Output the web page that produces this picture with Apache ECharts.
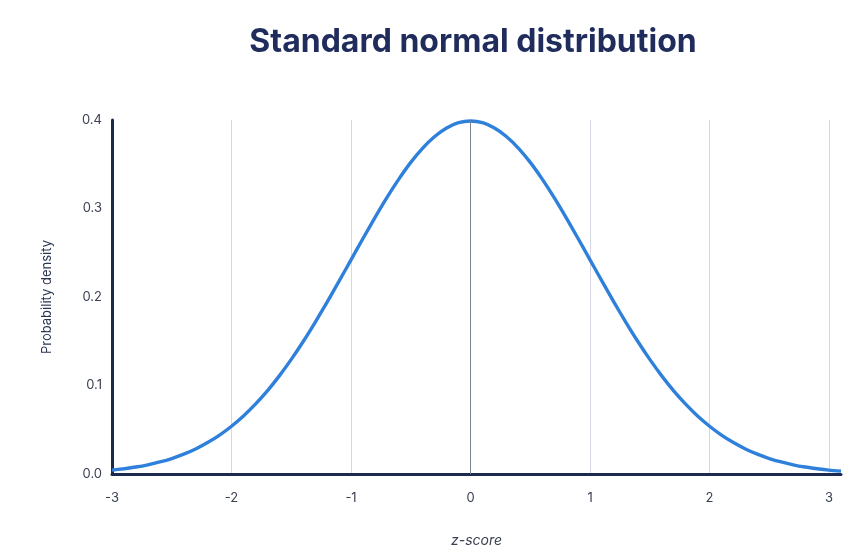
<!DOCTYPE html>
<html>
<head>
<meta charset="utf-8">
<script src="https://cdn.jsdelivr.net/npm/echarts@6/dist/echarts.min.js"></script>
<style>
html,body{margin:0;padding:0;background:#fff;}
#chart{width:859px;height:558px;}
</style>
</head>
<body>
<div id="chart"></div>
<script>
const titleText = 'Standard normal distribution';
const xAxisName = 'z-score';
const yAxisName = 'Probability density';
const xTicks = [-3, -2, -1, 0, 1, 2, 3];
const yTicks = [0.0, 0.1, 0.2, 0.3, 0.4];
const zValues = [-3.0,-2.9,-2.8,-2.7,-2.6,-2.5,-2.4,-2.3,-2.2,-2.1,-2.0,-1.9,-1.8,-1.7,-1.6,-1.5,-1.4,-1.3,-1.2,-1.1,-1.0,-0.9,-0.8,-0.7,-0.6,-0.5,-0.4,-0.3,-0.2,-0.1,0.0,0.1,0.2,0.3,0.4,0.5,0.6,0.7,0.8,0.9,1.0,1.1,1.2,1.3,1.4,1.5,1.6,1.7,1.8,1.9,2.0,2.1,2.2,2.3,2.4,2.5,2.6,2.7,2.8,2.9,3.0,3.1];
const density = [0.0044,0.0060,0.0079,0.0104,0.0136,0.0175,0.0224,0.0283,0.0355,0.0440,0.0540,0.0656,0.0790,0.0940,0.1109,0.1295,0.1497,0.1714,0.1942,0.2179,0.2420,0.2661,0.2897,0.3123,0.3332,0.3521,0.3683,0.3814,0.3910,0.3970,0.3989,0.3970,0.3910,0.3814,0.3683,0.3521,0.3332,0.3123,0.2897,0.2661,0.2420,0.2179,0.1942,0.1714,0.1497,0.1295,0.1109,0.0940,0.0790,0.0656,0.0540,0.0440,0.0355,0.0283,0.0224,0.0175,0.0136,0.0104,0.0079,0.0060,0.0044,0.0033];
const peakZ = 0;
const peakDensity = 0.3989;

const chart = echarts.init(document.getElementById('chart'));
const navy = '#1b2a4e';
const labelColor = '#3a4152';
chart.setOption({
  animation: false,
  backgroundColor: '#fff',
  title: {
    text: titleText,
    left: 468, top: 21, textAlign: 'center',
    textStyle: {fontFamily: 'Inter', fontWeight: 'bold', fontSize: 32, color: '#1f2c5c'}
  },
  grid: {left: 112, right: 18, top: 120, bottom: 84, containLabel: false},
  xAxis: {
    type: 'value', min: xTicks[0], max: 3.1, interval: 1,
    name: xAxisName, nameLocation: 'middle', nameGap: 60,
    nameTextStyle: {fontFamily: 'Inter', fontStyle: 'italic', fontSize: 14, color: labelColor},
    axisLine: {show: true, onZero: false, lineStyle: {color: navy, width: 3}},
    axisTick: {show: false},
    axisLabel: {
      margin: 18, fontFamily: 'Inter', fontSize: 13, color: labelColor,
      formatter: v => (Math.abs(v - Math.round(v)) < 1e-6 ? String(Math.round(v)) : '')
    },
    splitLine: {show: true, showMinLine: false, showMaxLine: false, lineStyle: {color: '#d6d9e3', width: 1}}
  },
  yAxis: {
    type: 'value', min: yTicks[0], max: yTicks[yTicks.length - 1], interval: 0.1,
    name: yAxisName, nameLocation: 'middle', nameGap: 58, nameRotate: 90,
    nameTextStyle: {fontFamily: 'Inter', fontSize: 13, color: '#2a3550'},
    axisLine: {show: true, onZero: false, lineStyle: {color: navy, width: 3}},
    axisTick: {show: false},
    axisLabel: {margin: 10, fontFamily: 'Inter', fontSize: 13, color: labelColor, formatter: v => v.toFixed(1)},
    splitLine: {show: false}
  },
  series: [
    {
      type: 'line', data: zValues.map((z, i) => [z, density[i]]),
      symbol: 'none', smooth: 0.2,
      lineStyle: {color: '#2f80db', width: 3.4}, z: 3,
      markLine: {
        silent: true, symbol: 'none', animation: false,
        label: {show: false},
        lineStyle: {color: '#7a8294', width: 1, type: 'solid'},
        data: [[{coord: [peakZ, 0]}, {coord: [peakZ, peakDensity]}]]
      }
    }
  ]
});
</script>
</body>
</html>
